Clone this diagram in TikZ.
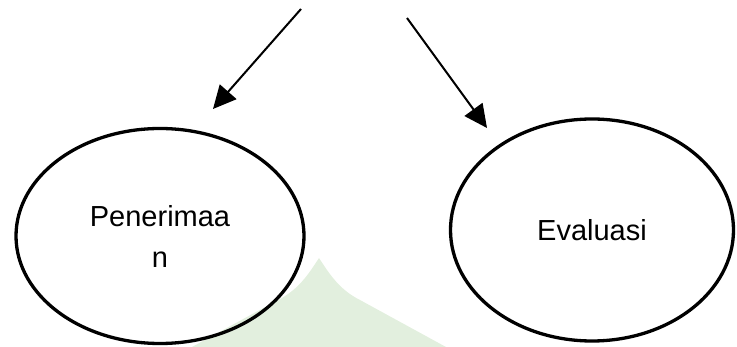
\documentclass[tikz,border=0pt]{standalone}
\usepackage{fontspec}
\setmainfont{Liberation Sans}
\usetikzlibrary{shapes.geometric,arrows.meta}
\definecolor{watermark}{RGB}{226,239,222}

\begin{document}
\begin{tikzpicture}[x=1pt,y=-1pt,
    stage/.style={draw,ellipse,line width=3.3pt,inner sep=0pt,align=center,font=\fontsize{29}{41}\selectfont},
    flow/.style={line width=2pt,-{Triangle[length=23pt,width=22pt]}}]
    \useasboundingbox (0,0) rectangle (737,347);
    % faint watermark behind the left stage
    \fill[watermark] (319,258) .. controls (330,275) and (340,290) .. (360,300) -- (446,347)
        -- (192,347) -- (278,300) .. controls (298,290) and (308,275) .. (319,258);
    \node[stage,minimum width=288pt,minimum height=215pt] (pen) at (160,236) {Penerimaa\\n};
    \node[stage,minimum width=283pt,minimum height=222pt] (eva) at (592,230) {Evaluasi};
    \coordinate (a1) at (301,9);
    \coordinate (t1) at (213,109);
    \coordinate (a2) at (407,18);
    \coordinate (t2) at (487,128);
    \draw[flow] (a1) -- (t1);
    \draw[flow] (a2) -- (t2);
\end{tikzpicture}
\end{document}
